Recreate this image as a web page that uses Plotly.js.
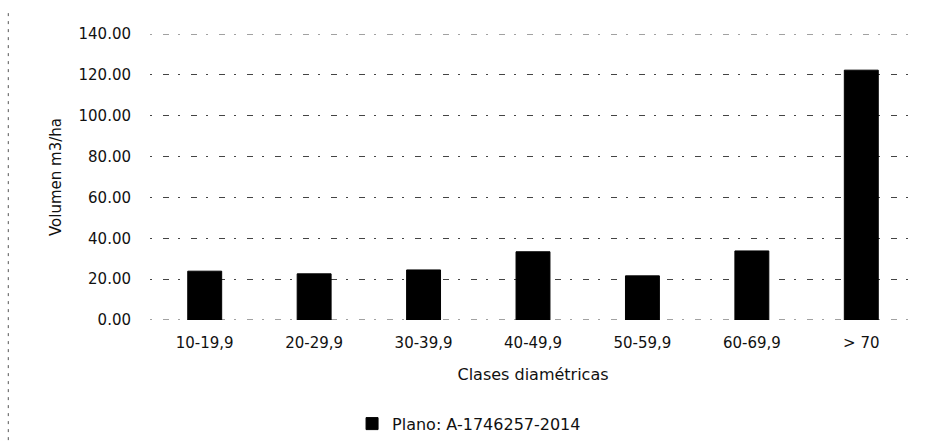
<!DOCTYPE html>
<html>
<head>
<meta charset="utf-8">
<script src="https://cdn.plot.ly/plotly-3.0.1.min.js"></script>
<style>
  html, body { margin: 0; padding: 0; background: #fff; }
  #chart { width: 927px; height: 446px; }
</style>
</head>
<body>
<div id="chart"></div>
<script>
// Volumen por clase diamétrica
const categories = ['10-19,9', '20-29,9', '30-39,9', '40-49,9', '50-59,9', '60-69,9', '> 70'];
const volumen = [23.9, 22.6, 24.5, 33.4, 21.6, 33.8, 122.3];
const yTicks = [0, 20, 40, 60, 80, 100, 120, 140];
const seriesName = 'Plano: A-1746257-2014';

const family = 'DejaVu Sans, Verdana, sans-serif';
const ink = '#111';
const gridDash = '2px,11px,6px,9px';

const trace = {
  type: 'bar',
  x: categories,
  y: volumen,
  name: seriesName,
  marker: { color: '#000', line: { color: '#000', width: 1 } },
  showlegend: true,
  hoverinfo: 'x+y'
};

// gridlines at the two ends of the value range (Plotly omits them at the edges)
const edgeLines = [yTicks[0], yTicks[yTicks.length - 1]].map(v => ({
  type: 'line', xref: 'paper', yref: 'y', x0: 0, x1: 1, y0: v, y1: v,
  line: { color: '#444', width: 1, dash: gridDash }, layer: 'below'
}));

// outer frame remnant on the left side of the chart area
const frameLine = {
  type: 'line', xref: 'paper', yref: 'paper', x0: -0.185, x1: -0.185, y0: -0.42, y1: 1.08,
  line: { color: '#555', width: 1, dash: '3px,5px' }
};

const layout = {
  width: 927,
  height: 446,
  margin: { l: 150, r: 11, t: 34, b: 126 },
  paper_bgcolor: '#fff',
  plot_bgcolor: '#fff',
  font: { family: family, color: ink, size: 15 },
  bargap: 0.69,
  xaxis: {
    type: 'category',
    showgrid: false,
    zeroline: false,
    showline: false,
    ticks: '',
    ticklabelstandoff: 12,
    tickfont: { family: family, size: 15, color: ink },
    title: { text: 'Clases diamétricas', font: { family: family, size: 16, color: ink }, standoff: 17 }
  },
  yaxis: {
    range: [0, 140],
    tickvals: yTicks,
    ticktext: yTicks.map(v => v.toFixed(2)),
    showgrid: true,
    gridcolor: '#444',
    gridwidth: 1,
    griddash: gridDash,
    zeroline: false,
    showline: false,
    ticks: '',
    ticklabelstandoff: 18,
    tickfont: { family: family, size: 15, color: ink },
    title: { text: 'Volumen m3/ha', font: { family: family, size: 15, color: ink }, standoff: 13 }
  },
  legend: {
    orientation: 'h',
    xref: 'container',
    yref: 'container',
    x: 0.506,
    xanchor: 'center',
    y: 0.05,
    yanchor: 'middle',
    font: { family: family, size: 16, color: ink },
    itemwidth: 30
  },
  shapes: edgeLines.concat([frameLine])
};

Plotly.newPlot('chart', [trace], layout, { displayModeBar: false, staticPlot: true });
</script>
</body>
</html>
